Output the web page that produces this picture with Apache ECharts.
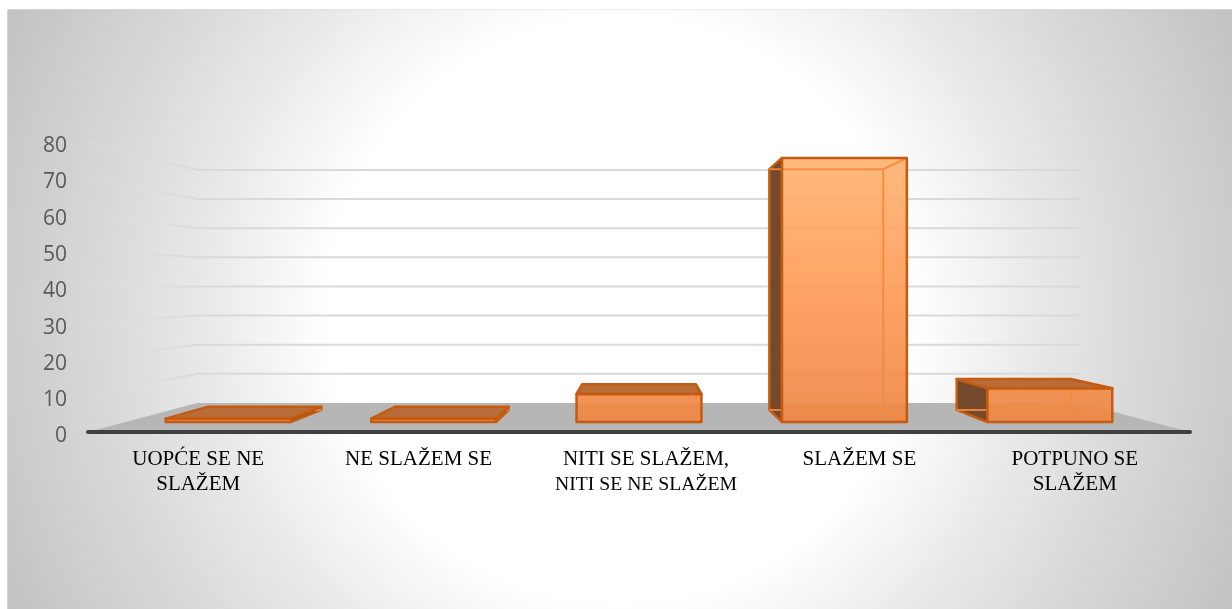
<!DOCTYPE html>
<html>
<head>
<meta charset="utf-8">
<style>
  html, body { margin: 0; padding: 0; background: #fff; }
  #myChart { width: 1232px; height: 609px; }
</style>
<script src="https://cdn.jsdelivr.net/npm/echarts@6/dist/echarts.min.js"></script>
</head>
<body>
<div id="myChart"></div>
<script>
// chart values
var categories = ['UOPĆE SE NE\nSLAŽEM', 'NE SLAŽEM SE', 'NITI SE SLAŽEM,\nNITI SE NE SLAŽEM', 'SLAŽEM SE', 'POTPUNO SE\nSLAŽEM']
var values = [1, 1, 8.3, 78, 10]
var gridTicks = [10, 20, 30, 40, 50, 60, 70, 80]

// perspective of the 3d box: depth scales towards a vanishing point
var vanishValue = 40.5
var backScale = 0.802
var barFrontScale = 0.932
var barBackScale = 0.85
var barWidthRatio = 0.608

// colors
var darkEdge = '#c55a11'
var lightEdge = 'rgba(244,136,62,0.9)'
var sideFill = '#75492c'
var topFill = '#b86c38'
var floorFill = '#b6b6b6'
var gridColor = '#d9d9d9'

// label nudges, the source labels are not quite centered on their bands
var labelPadding = [null, null, [0, 0, 0, 14], null, [0, 10, 0, 0]]

function makeProject(api) {
  var vp = api.coord([2, vanishValue])
  return function (x, y, s) {
    return [vp[0] + (x - vp[0]) * s, vp[1] + (y - vp[1]) * s]
  }
}

function poly(points, fill, stroke, width) {
  return {
    type: 'polygon',
    silent: true,
    shape: { points: points },
    style: { fill: fill, stroke: stroke || 'none', lineWidth: width || 0, lineJoin: 'round' }
  }
}

function line(points, stroke, width) {
  return {
    type: 'polyline',
    silent: true,
    shape: { points: points },
    style: { fill: 'none', stroke: stroke, lineWidth: width, lineJoin: 'round' }
  }
}

function renderFloor(params, api) {
  var project = makeProject(api)
  var c = params.coordSys
  var y0 = api.coord([0, 0])[1]
  var left = c.x
  var right = c.x + c.width
  return poly([
    [left, y0], [right, y0],
    project(right, y0, backScale), project(left, y0, backScale)
  ], floorFill)
}

function renderGrid(params, api) {
  var project = makeProject(api)
  var c = params.coordSys
  var y = api.coord([0, api.value(1)])[1]
  var left = c.x
  var right = c.x + c.width
  var backLeft = project(left, y, backScale)
  var backRight = project(right, y, backScale)
  var fade = {
    type: 'linear', global: true,
    x: left, y: 0, x2: backLeft[0], y2: 0,
    colorStops: [{ offset: 0, color: 'rgba(225,225,225,0.2)' }, { offset: 1, color: gridColor }]
  }
  return {
    type: 'group',
    children: [
      line([[left, y], backLeft], fade, 2),
      line([backLeft, backRight], gridColor, 2)
    ]
  }
}

function renderBar(params, api) {
  var project = makeProject(api)
  var center = api.coord([api.value(0), 0])
  var top = api.coord([api.value(0), api.value(1)])[1]
  var bottom = center[1]
  var half = api.size([1, 0])[0] * barWidthRatio / 2
  var vp = api.coord([2, vanishValue])
  var xl = center[0] - half
  var xr = center[0] + half

  var ftl = project(xl, top, barFrontScale)
  var ftr = project(xr, top, barFrontScale)
  var fbl = project(xl, bottom, barFrontScale)
  var fbr = project(xr, bottom, barFrontScale)
  var btl = project(xl, top, barBackScale)
  var btr = project(xr, top, barBackScale)
  var bbl = project(xl, bottom, barBackScale)
  var bbr = project(xr, bottom, barBackScale)

  // same gradient for every bar, tied to the plot height
  var frontFill = {
    type: 'linear', global: true,
    x: 0, y: project(xl, api.coord([0, 80])[1], barFrontScale)[1], x2: 0, y2: fbl[1],
    colorStops: [
      { offset: 0, color: 'rgba(255,180,115,0.92)' },
      { offset: 0.5, color: 'rgba(255,157,90,0.92)' },
      { offset: 1, color: 'rgba(238,134,68,0.92)' }
    ]
  }

  var children = []
  // faces turned to the viewer, behind the front
  if (xl > vp[0]) {
    children.push(poly([ftl, btl, bbl, fbl], sideFill, darkEdge, 2.5))
  }
  if (xr < vp[0]) {
    children.push(poly([ftr, btr, bbr, fbr], sideFill, darkEdge, 2.5))
  }
  children.push(poly([ftl, ftr, fbr, fbl], frontFill))
  // back edges seen through the front
  children.push(line([bbl, bbr], lightEdge, 2))
  if (xr >= vp[0]) {
    children.push(line([fbr, bbr, btr, ftr], lightEdge, 2))
  }
  if (top > vp[1]) {
    children.push(poly([ftl, ftr, btr, btl], topFill, darkEdge, 2.5))
  } else {
    children.push(line([btl, btr], lightEdge, 2))
  }
  children.push(poly([ftl, ftr, fbr, fbl], 'none', darkEdge, 2.5))
  return { type: 'group', children: children }
}

var myChart = echarts.init(document.getElementById('myChart'))

myChart.setOption({
  animation: false,
  graphic: {
    elements: [
      {
        type: 'rect',
        z: -10,
        silent: true,
        shape: { x: 7.5, y: 9.5, width: 1226, height: 601 },
        style: {
          stroke: 'rgba(0,0,0,0.07)',
          lineWidth: 1,
          fill: {
            type: 'radial', global: true, x: 620, y: 310, r: 690,
            colorStops: [
              { offset: 0, color: '#ffffff' },
              { offset: 0.42, color: '#ffffff' },
              { offset: 0.6, color: '#e9e9e9' },
              { offset: 0.75, color: '#d9d9d9' },
              { offset: 1, color: '#c1c1c1' }
            ]
          }
        }
      }
    ]
  },
  grid: { left: 88, right: 42, top: 141.5, bottom: 177 },
  xAxis: {
    type: 'category',
    z: 5,
    data: categories.map(function (name, i) {
      return labelPadding[i] ? { value: name, textStyle: { padding: labelPadding[i] } } : name
    }),
    axisLine: { show: true, lineStyle: { color: '#404040', width: 4, cap: 'round' } },
    axisTick: { show: false },
    axisLabel: {
      interval: 0,
      margin: 15,
      color: '#000',
      fontFamily: '"Liberation Serif"',
      fontSize: 21,
      lineHeight: 25,
      formatter: function (name) {
        // the long second line is set tighter in the source
        return name.replace('NITI SE NE SLAŽEM', '{tight|NITI SE NE SLAŽEM}')
      },
      rich: {
        tight: { fontFamily: '"Liberation Serif"', fontSize: 19.7, lineHeight: 25, color: '#000' }
      }
    }
  },
  yAxis: {
    type: 'value',
    min: 0,
    max: 80,
    interval: 10,
    axisLine: { show: false },
    axisTick: { show: false },
    splitLine: { show: false },
    axisLabel: {
      margin: 21,
      verticalAlign: 'top',
      lineHeight: 9,
      color: '#595959',
      fontFamily: '"Open Sans"',
      fontSize: 21
    }
  },
  series: [
    {
      type: 'custom',
      z: 1,
      silent: true,
      renderItem: renderFloor,
      encode: { x: 0, y: 1 },
      data: [[0, 0]]
    },
    {
      type: 'custom',
      z: 1,
      silent: true,
      renderItem: renderGrid,
      encode: { x: 0, y: 1 },
      data: gridTicks.map(function (t) { return [0, t] })
    },
    {
      type: 'custom',
      z: 2,
      silent: true,
      renderItem: renderBar,
      encode: { x: 0, y: 1 },
      data: values.map(function (v, i) { return [i, v] })
    }
  ]
})
</script>
</body>
</html>
